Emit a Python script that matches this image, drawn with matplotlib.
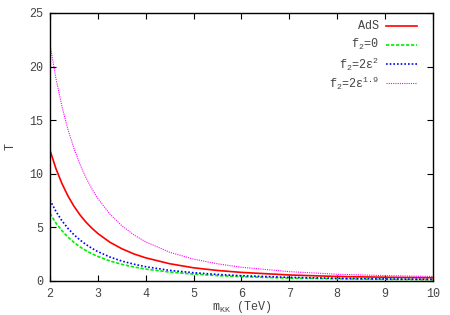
import matplotlib
matplotlib.use("Agg")
import matplotlib.pyplot as plt
from matplotlib.lines import Line2D

# values
m_kk = [2.0, 2.125, 2.25, 2.375, 2.5, 2.625, 2.75, 2.875, 3.0, 3.25, 3.5, 3.75, 4.0,
        4.5, 5.0, 5.5, 6.0, 7.0, 8.0, 9.0, 10.0]
gamma_ads = [12.2, 10.48, 9.09, 7.94, 6.98, 6.18, 5.50, 4.93, 4.43, 3.62, 3.01, 2.53, 2.16,
             1.61, 1.23, 0.98, 0.80, 0.56, 0.42, 0.35, 0.30]
gamma_f0 = [6.3, 5.41, 4.69, 4.10, 3.60, 3.19, 2.84, 2.54, 2.29, 1.87, 1.55, 1.31, 1.11,
            0.83, 0.64, 0.50, 0.40, 0.27, 0.20, 0.15, 0.11]
gamma_e2 = [7.55, 6.49, 5.62, 4.91, 4.32, 3.83, 3.41, 3.05, 2.74, 2.24, 1.86, 1.57, 1.33,
            0.99, 0.77, 0.61, 0.49, 0.34, 0.25, 0.19, 0.15]
gamma_e19 = [22.1, 18.88, 16.3, 14.14, 12.4, 10.90, 9.65, 8.60, 7.70, 6.25, 5.16, 4.31, 3.65,
             2.68, 2.04, 1.60, 1.28, 0.87, 0.63, 0.50, 0.42]

labels = ["AdS", r"f$_2$=0", r"f$_2$=2ε$^2$", r"f$_2$=2ε$^{1.9}$"]
xticks = [2, 3, 4, 5, 6, 7, 8, 9, 10]
yticks = [0, 5, 10, 15, 20, 25]

plt.rcParams['font.family'] = ['Liberation Mono', 'DejaVu Sans Mono']
plt.rcParams['mathtext.fontset'] = 'custom'
plt.rcParams['mathtext.rm'] = 'Liberation Mono'
plt.rcParams['mathtext.it'] = 'Liberation Mono'
plt.rcParams['mathtext.default'] = 'regular'

grey = '#444444'

fig = plt.figure(figsize=(4.5, 3.15), dpi=100)
ax = fig.add_axes([0.111, 0.108, 0.851, 0.851])

styles = [
    dict(color='#ff0000', lw=1.2, ls='-'),
    dict(color='#00ee00', lw=1.2, ls=(0, (2, 1))),
    dict(color='#0000ff', lw=1.2, ls=(0, (1, 1.2))),
    dict(color='#ff00ff', lw=0.8, ls=(0, (1, 1))),
]
series = [gamma_ads, gamma_f0, gamma_e2, gamma_e19]
for ys, st in zip(series, styles):
    ax.plot(m_kk, ys, **st)

ax.set_xlim(2, 10)
ax.set_ylim(0, 25)
ax.set_xticks(xticks)
ax.set_yticks(yticks)
ax.tick_params(direction='in', top=True, right=True, length=4, width=0.8,
               labelsize=8.5, labelcolor=grey, pad=5)
for s in ax.spines.values():
    s.set_linewidth(1.0)

ax.set_xlabel(r"m$_{KK}$ (TeV)", fontsize=8.5, color=grey, va='center')
ax.xaxis.set_label_coords(0.5, -0.097)
ax.set_ylabel("T", fontsize=8.5, color=grey, va='center')
ax.yaxis.set_label_coords(-0.104, 0.5)

# key in the gnuplot style: text right-aligned, sample to its right
for i, (lab, st) in enumerate(zip(labels, styles)):
    yk = 1 - (13 + 19 * i) / 268
    ax.text(0.859, yk, lab, transform=ax.transAxes, ha='right', va='center',
            fontsize=8.5, color=grey)
    ax.add_line(Line2D([0.877, 0.958], [yk, yk], transform=ax.transAxes, **st))

fig.savefig('out.png', dpi=100)
